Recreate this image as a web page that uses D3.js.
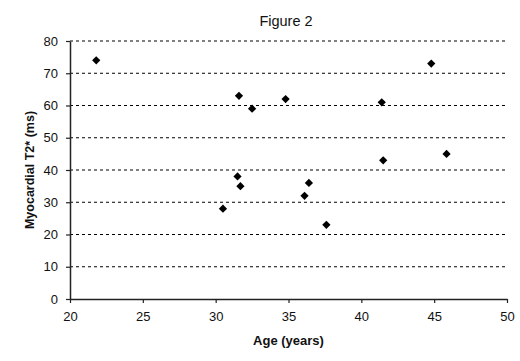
<!DOCTYPE html>
<html>
<head>
<meta charset="utf-8">
<script src="https://cdn.jsdelivr.net/npm/d3@7"></script>
<style>
  body { margin: 0; background: #fff; }
  svg text { font-family: Arial, "Liberation Sans", sans-serif; fill: #111; }
</style>
</head>
<body>
<div id="graphic"></div>
<script>
// data
const ages = [21.8, 31.6, 32.5, 34.8, 31.5, 31.7, 30.5, 36.1, 36.4, 37.6, 41.4, 44.8, 41.5, 45.85];
const t2star = [74, 63, 59, 62, 38, 35, 28, 32, 36, 23, 61, 73, 43, 45];
const xTicks = [20, 25, 30, 35, 40, 45, 50];
const yTicks = [0, 10, 20, 30, 40, 50, 60, 70, 80];

const width = 520, height = 361;
const margin = { top: 41, right: 13, bottom: 62, left: 70 };
const chartWidth = width - margin.left - margin.right;
const chartHeight = height - margin.top - margin.bottom;

const svg = d3.select('#graphic').append('svg')
  .attr('width', width)
  .attr('height', height);

const g = svg.append('g')
  .attr('transform', `translate(${margin.left},${margin.top})`);

const x = d3.scaleLinear().domain([20, 50]).range([0, chartWidth]);
const y = d3.scaleLinear().domain([0, 80]).range([chartHeight, 0]);

// dashed gridlines
g.append('g')
  .selectAll('line')
  .data(yTicks.filter(d => d > 0))
  .join('line')
  .attr('x1', 0)
  .attr('x2', chartWidth)
  .attr('y1', d => y(d))
  .attr('y2', d => y(d))
  .attr('stroke', '#000')
  .attr('stroke-width', 1)
  .attr('stroke-dasharray', '3,3');

// y axis
const yAxis = g.append('g')
  .call(d3.axisLeft(y).tickValues(yTicks).tickSize(4).tickPadding(8).tickSizeOuter(0));
yAxis.select('.domain').attr('stroke', '#222').attr('stroke-width', 1.5);
yAxis.selectAll('.tick line').attr('stroke', '#222').attr('stroke-width', 1.2);
yAxis.selectAll('text').style('font-size', '13px').attr('fill', '#222');

// x axis
const xAxis = g.append('g')
  .attr('transform', `translate(0,${chartHeight})`)
  .call(d3.axisBottom(x).tickValues(xTicks).tickSize(4).tickPadding(9).tickSizeOuter(0));
xAxis.select('.domain').attr('stroke', '#222').attr('stroke-width', 1.5);
xAxis.selectAll('.tick line').attr('stroke', '#222').attr('stroke-width', 1.2);
xAxis.selectAll('text').style('font-size', '13px').attr('fill', '#222');

// diamond markers
const points = d3.zip(ages, t2star);
g.append('g')
  .selectAll('path')
  .data(points)
  .join('path')
  .attr('d', d3.symbol(d3.symbolSquare, 34))
  .attr('transform', d => `translate(${x(d[0])},${y(d[1])}) rotate(45)`)
  .attr('fill', '#000');

// title
svg.append('text')
  .attr('x', 286)
  .attr('y', 26)
  .attr('text-anchor', 'middle')
  .style('font-size', '14.5px')
  .text('Figure 2');

// axis labels
svg.append('text')
  .attr('x', margin.left + chartWidth / 2)
  .attr('y', 345)
  .attr('text-anchor', 'middle')
  .style('font-size', '13px')
  .style('font-weight', 'bold')
  .text('Age (years)');

svg.append('text')
  .attr('transform', `translate(34,${margin.top + chartHeight / 2}) rotate(-90)`)
  .attr('text-anchor', 'middle')
  .style('font-size', '12.5px')
  .style('font-weight', 'bold')
  .text('Myocardial T2* (ms)');
</script>
</body>
</html>
